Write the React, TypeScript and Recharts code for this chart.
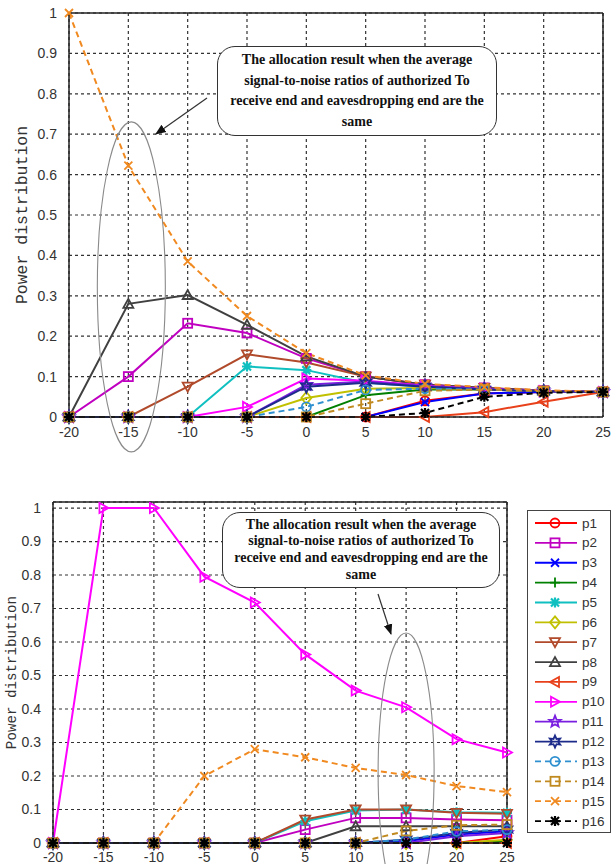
import React from "react";
import {
  LineChart,
  Line,
  XAxis,
  YAxis,
  CartesianGrid,
  ReferenceLine,
  ReferenceDot,
  Label,
} from "recharts";

// SNR categories shared by both panels
const snr = [-20, -15, -10, -5, 0, 5, 10, 15, 20, 25];
const yTicks = [0, 0.1, 0.2, 0.3, 0.4, 0.5, 0.6, 0.7, 0.8, 0.9, 1];
const seriesNames = ["p1", "p2", "p3", "p4", "p5", "p6", "p7", "p8", "p9", "p10", "p11", "p12", "p13", "p14", "p15", "p16"];

// top panel
const topP1 = [0, 0, 0, 0, 0, 0, 0.04, 0.058, 0.062, 0.062];
const topP2 = [0, 0.1, 0.232, 0.208, 0.145, 0.1, 0.08, 0.072, 0.065, 0.062];
const topP3 = [0, 0, 0, 0, 0, 0, 0.037, 0.058, 0.062, 0.062];
const topP4 = [0, 0, 0, 0, 0, 0.054, 0.068, 0.068, 0.064, 0.062];
const topP5 = [0, 0, 0, 0.125, 0.116, 0.085, 0.075, 0.07, 0.064, 0.062];
const topP6 = [0, 0, 0, 0, 0.047, 0.07, 0.072, 0.068, 0.064, 0.062];
const topP7 = [0, 0, 0.075, 0.155, 0.135, 0.1, 0.08, 0.072, 0.065, 0.062];
const topP8 = [0, 0.28, 0.302, 0.228, 0.15, 0.1, 0.08, 0.072, 0.065, 0.062];
const topP9 = [0, 0, 0, 0, 0, 0, 0, 0.012, 0.038, 0.062];
const topP10 = [0, 0, 0, 0.025, 0.095, 0.09, 0.078, 0.07, 0.064, 0.062];
const topP11 = [0, 0, 0, 0, 0.08, 0.088, 0.077, 0.07, 0.064, 0.062];
const topP12 = [0, 0, 0, 0, 0.075, 0.085, 0.075, 0.068, 0.064, 0.062];
const topP13 = [0, 0, 0, 0, 0.025, 0.067, 0.07, 0.068, 0.064, 0.062];
const topP14 = [0, 0, 0, 0, 0, 0.033, 0.065, 0.068, 0.064, 0.062];
const topP15 = [1, 0.622, 0.385, 0.25, 0.158, 0.103, 0.082, 0.074, 0.066, 0.063];
const topP16 = [0, 0, 0, 0, 0, 0, 0.01, 0.05, 0.06, 0.062];

// bottom panel
const botP1 = [0, 0, 0, 0, 0, 0, 0, 0, 0, 0.02];
const botP2 = [0, 0, 0, 0, 0, 0.04, 0.075, 0.075, 0.07, 0.068];
const botP3 = [0, 0, 0, 0, 0, 0, 0, 0.005, 0.025, 0.035];
const botP4 = [0, 0, 0, 0, 0, 0, 0, 0, 0, 0.005];
const botP5 = [0, 0, 0, 0, 0, 0.065, 0.097, 0.1, 0.092, 0.09];
const botP6 = [0, 0, 0, 0, 0, 0, 0, 0, 0, 0.01];
const botP7 = [0, 0, 0, 0, 0, 0.07, 0.1, 0.1, 0.09, 0.087];
const botP8 = [0, 0, 0, 0, 0, 0, 0.05, 0.05, 0.05, 0.05];
const botP9 = [0, 0, 0, 0, 0, 0, 0, 0, 0, 0];
const botP10 = [0, 1, 1, 0.795, 0.718, 0.563, 0.455, 0.405, 0.31, 0.27];
const botP11 = [0, 0, 0, 0, 0, 0, 0, 0, 0.02, 0.03];
const botP12 = [0, 0, 0, 0, 0, 0, 0, 0.01, 0.03, 0.04];
const botP13 = [0, 0, 0, 0, 0, 0, 0, 0.01, 0.035, 0.04];
const botP14 = [0, 0, 0, 0, 0, 0, 0, 0.036, 0.053, 0.055];
const botP15 = [0, 0, 0, 0.2, 0.28, 0.256, 0.224, 0.203, 0.17, 0.152];
const botP16 = [0, 0, 0, 0, 0, 0, 0, 0, 0, 0];

const topSeries = [topP1, topP2, topP3, topP4, topP5, topP6, topP7, topP8, topP9, topP10, topP11, topP12, topP13, topP14, topP15, topP16];
const botSeries = [botP1, botP2, botP3, botP4, botP5, botP6, botP7, botP8, botP9, botP10, botP11, botP12, botP13, botP14, botP15, botP16];

const colors = ["#ff0000", "#c000c0", "#0000ff", "#008000", "#10c0c0", "#c0c000", "#b04a2a", "#404040", "#e8401a", "#ff00ff", "#7a1fe0", "#1c2a8a", "#2f90d0", "#c08a20", "#f08a20", "#000000"];
const markers = ["o", "s", "x", "+", "*", "d", "v", "^", "<", ">", "p", "h", "o", "s", "x", "*"];

const noteLines = [
  "The allocation result when the average",
  "signal-to-noise ratios of authorized To",
  "receive end and eavesdropping end are the",
  "same",
];

const buildRows = (series: number[][]) =>
  snr.map((x, i) => {
    const row: any = { x };
    seriesNames.forEach((n, k) => (row[n] = series[k][i]));
    return row;
  });

const topRows = buildRows(topSeries);
const botRows = buildRows(botSeries);

function starPath(cx: number, cy: number, n: number, R: number, r: number) {
  let d = "";
  for (let i = 0; i < n * 2; i++) {
    const rad = i % 2 === 0 ? R : r;
    const a = -Math.PI / 2 + (i * Math.PI) / n;
    d += (i === 0 ? "M" : "L") + (cx + rad * Math.cos(a)).toFixed(2) + "," + (cy + rad * Math.sin(a)).toFixed(2);
  }
  return d + "Z";
}

function marker(kind: string, cx: number, cy: number, color: string, key?: any) {
  const st = { fill: "none", stroke: color, strokeWidth: 1.8 };
  switch (kind) {
    case "o":
      return <circle key={key} cx={cx} cy={cy} r={4.5} {...st} />;
    case "s":
      return <rect key={key} x={cx - 4.5} y={cy - 4.5} width={9} height={9} {...st} />;
    case "x":
      return <path key={key} d={`M${cx - 4},${cy - 4}L${cx + 4},${cy + 4}M${cx - 4},${cy + 4}L${cx + 4},${cy - 4}`} {...st} />;
    case "+":
      return <path key={key} d={`M${cx - 5},${cy}L${cx + 5},${cy}M${cx},${cy - 5}L${cx},${cy + 5}`} {...st} />;
    case "*":
      return (
        <path
          key={key}
          d={`M${cx - 5},${cy}L${cx + 5},${cy}M${cx},${cy - 5}L${cx},${cy + 5}M${cx - 4},${cy - 4}L${cx + 4},${cy + 4}M${cx - 4},${cy + 4}L${cx + 4},${cy - 4}`}
          {...st}
          strokeWidth={2.2}
        />
      );
    case "d":
      return <path key={key} d={`M${cx},${cy - 6}L${cx + 5},${cy}L${cx},${cy + 6}L${cx - 5},${cy}Z`} {...st} />;
    case "v":
      return <path key={key} d={`M${cx - 5},${cy - 4}L${cx + 5},${cy - 4}L${cx},${cy + 5}Z`} {...st} />;
    case "^":
      return <path key={key} d={`M${cx - 5},${cy + 4}L${cx + 5},${cy + 4}L${cx},${cy - 5}Z`} {...st} />;
    case "<":
      return <path key={key} d={`M${cx + 4},${cy - 5}L${cx + 4},${cy + 5}L${cx - 5},${cy}Z`} {...st} />;
    case ">":
      return <path key={key} d={`M${cx - 4},${cy - 5}L${cx - 4},${cy + 5}L${cx + 5},${cy}Z`} {...st} />;
    case "p":
      return <path key={key} d={starPath(cx, cy, 5, 6, 2.6)} {...st} />;
    case "h":
      return <path key={key} d={starPath(cx, cy, 6, 6, 3)} {...st} />;
  }
  return null;
}

const tickStyle = { fontFamily: "Liberation Sans, Arial", fontSize: 14, fill: "#333" };

const renderSeries = () =>
  seriesNames.map((n, k) => (
    <Line
      key={n}
      type="linear"
      dataKey={n}
      stroke={colors[k]}
      strokeWidth={2}
      strokeDasharray={k >= 12 ? "6 4" : undefined}
      dot={(p: any) => marker(markers[k], p.cx, p.cy, colors[k], `${n}-${p.index}`)}
      activeDot={false}
      isAnimationActive={false}
    />
  ));

const yLabel = (fontSize: number, dx: number) => (
  <Label
    content={({ viewBox }: any) => {
      const x = viewBox.x + dx;
      const y = viewBox.y + viewBox.height / 2;
      return (
        <text
          x={x}
          y={y}
          transform={`rotate(-90, ${x}, ${y})`}
          textAnchor="middle"
          dominantBaseline="central"
          style={{ fontFamily: "Liberation Mono, Courier New", fontSize, fill: "#333" }}
        >
          Power distribution
        </text>
      );
    }}
  />
);

const noteBox = (left: number, top: number, width: number, height: number, lh: number) => (
  <div
    style={{
      position: "absolute",
      left,
      top,
      width,
      height,
      boxSizing: "border-box",
      border: "1.4px solid #333",
      borderRadius: 18,
      background: "#fff",
      display: "flex",
      flexDirection: "column",
      justifyContent: "center",
      alignItems: "center",
      fontFamily: "Liberation Serif, Times New Roman",
      fontWeight: "bold",
      fontSize: 14,
      lineHeight: `${lh}px`,
      color: "#111",
    }}
  >
    {noteLines.map((t) => (
      <div key={t} style={{ whiteSpace: "nowrap" }}>
        {t}
      </div>
    ))}
  </div>
);

export default function App() {
  return (
    <div style={{ position: "absolute", left: 0, top: 0, width: 611, height: 864, background: "#fff", overflow: "hidden" }}>
      <div style={{ position: "absolute", left: 0, top: 0 }}>
        <LineChart width={611} height={455} data={topRows} margin={{ top: 13, right: 8, left: 0, bottom: 0 }}>
          <CartesianGrid stroke="#333" strokeWidth={1.2} strokeDasharray="3 3" />
          <XAxis
            dataKey="x"
            type="number"
            domain={[-20, 25]}
            ticks={snr}
            height={38}
            tickLine={false}
            tickMargin={4}
            tick={tickStyle}
            axisLine={{ stroke: "#222", strokeWidth: 1.5 }}
          />
          <YAxis
            type="number"
            domain={[0, 1]}
            ticks={yTicks}
            width={69}
            tickLine={false}
            tickMargin={6}
            tick={tickStyle}
            axisLine={{ stroke: "#222", strokeWidth: 1.5 }}
          >
            {yLabel(16.5, 22)}
          </YAxis>
          <ReferenceLine x={25} stroke="#222" strokeWidth={1.5} />
          <ReferenceLine y={1} stroke="#222" strokeWidth={1.5} />
          <ReferenceDot
            x={-15}
            y={0.322}
            r={0}
            ifOverflow="visible"
            shape={(p: any) => <ellipse cx={p.cx + 3} cy={p.cy} rx={34} ry={165} fill="none" stroke="#8a8a8a" strokeWidth={1.1} />}
          />
          {renderSeries()}
        </LineChart>
      </div>

      <div style={{ position: "absolute", left: 0, top: 460 }}>
        <LineChart width={611} height={404} data={botRows} margin={{ top: 42, right: 104, left: 0, bottom: 0 }}>
          <CartesianGrid stroke="#333" strokeWidth={1.2} strokeDasharray="3 3" />
          <XAxis
            dataKey="x"
            type="number"
            domain={[-20, 25]}
            ticks={snr}
            height={21}
            tickLine={false}
            tickMargin={3}
            tick={tickStyle}
            axisLine={{ stroke: "#222", strokeWidth: 1.5 }}
          />
          <YAxis
            type="number"
            domain={[0, 1.018]}
            ticks={yTicks}
            width={53}
            tickLine={false}
            tickMargin={6}
            tick={tickStyle}
            axisLine={{ stroke: "#222", strokeWidth: 1.5 }}
          >
            {yLabel(14.2, 12)}
          </YAxis>
          <ReferenceLine x={25} stroke="#222" strokeWidth={1.5} />
          <ReferenceLine y={1.018} stroke="#222" strokeWidth={1.5} />
          <ReferenceDot
            x={15}
            y={0.212}
            r={0}
            ifOverflow="visible"
            shape={(p: any) => <ellipse cx={p.cx} cy={p.cy} rx={28} ry={139} fill="none" stroke="#8a8a8a" strokeWidth={1.1} />}
          />
          {renderSeries()}
        </LineChart>
      </div>

      {noteBox(217, 46, 280, 90, 20.5)}
      {noteBox(222, 512, 278, 76, 16.7)}

      <svg width={611} height={864} style={{ position: "absolute", left: 0, top: 0, pointerEvents: "none" }}>
        <defs>
          <marker id="head" viewBox="0 0 10 10" refX="9" refY="5" markerWidth="9" markerHeight="9" orient="auto">
            <path d="M0,1L10,5L0,9Z" fill="#111" />
          </marker>
        </defs>
        <line x1={207} y1={98} x2={156} y2={134} stroke="#333" strokeWidth={1.2} markerEnd="url(#head)" />
        <line x1={378} y1={594} x2={391} y2={634} stroke="#333" strokeWidth={1.2} markerEnd="url(#head)" />
      </svg>

      <svg width={84} height={323} style={{ position: "absolute", left: 527, top: 510, background: "#fff" }}>
        <rect x={0.5} y={0.5} width={83} height={322} fill="#fff" stroke="#444" strokeWidth={1} />
        {seriesNames.map((n, k) => {
          const y = 13 + k * 19.87;
          return (
            <g key={n}>
              <line x1={8} y1={y} x2={50} y2={y} stroke={colors[k]} strokeWidth={1.8} strokeDasharray={k >= 12 ? "6 4" : undefined} />
              {marker(markers[k], 28, y, colors[k])}
              <text x={55} y={y} dominantBaseline="central" style={{ fontFamily: "Liberation Sans, Arial", fontSize: 13.5, fill: "#333" }}>
                {n}
              </text>
            </g>
          );
        })}
      </svg>
    </div>
  );
}
